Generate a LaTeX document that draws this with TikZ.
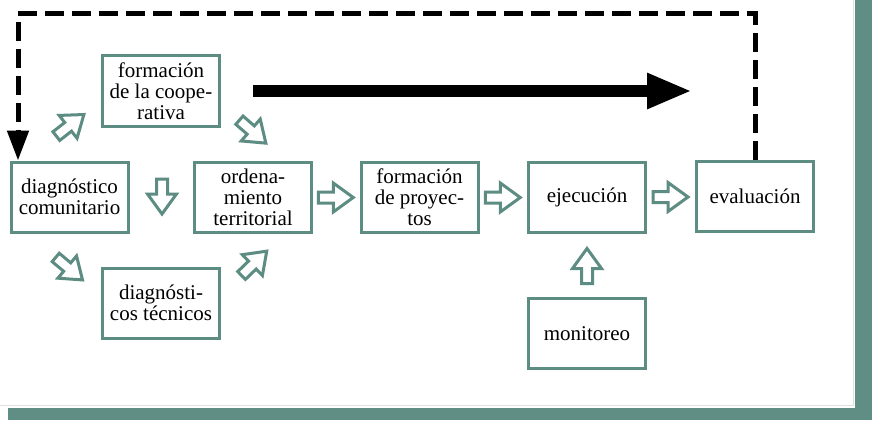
\documentclass[tikz,border=0pt]{standalone}
\usepackage{fontspec}
\setmainfont{Liberation Serif}
\usetikzlibrary{arrows.meta,calc}
\definecolor{tealb}{RGB}{92,140,130}
\definecolor{frameb}{RGB}{96,142,132}
\tikzset{
 box/.style={draw=tealb, line width=3pt, fill=white, minimum width=117pt, minimum height=70pt,
   align=center, inner sep=2pt, font=\rmfamily\fontsize{21}{21}\selectfont},
 hollow/.style={draw=tealb, line width=3pt, fill=white, line join=miter},
 feedback/.style={line width=5pt, dash pattern=on 19pt off 8pt, line join=miter,
   -{Triangle[length=30pt,width=21pt]}},
 bigarrow/.style={line width=12pt, -{Triangle[length=45pt,width=33pt]}},
 harrow/.pic={\draw[hollow] (-18,-5.5) -- (-3,-5.5) -- (-3,-14.5) -- (17,0) -- (-3,14.5) -- (-3,5.5) -- (-18,5.5) -- cycle;}
}
\begin{document}
\begin{tikzpicture}[x=1pt,y=-1pt]
\useasboundingbox (0,0) rectangle (872,420);
\fill[white] (0,0) rectangle (872,420);
% frame
\draw[gray!25, line width=1.5pt] (0,405.5) -- (853.5,405.5) -- (853.5,0);
\fill[frameb] (855,0) rectangle (872,420);
\fill[frameb] (8,408) rectangle (872,420);

% boxes
\node[box] (dc) at (69.5,197) {diagnóstico\\comunitario};
\node[box] (fc) at (161,91) {formación\\de la coope-\\rativa};
\node[box] (ot) at (253,197.5) {ordena-\\miento\\territorial};
\node[box] (fp) at (419.5,197.5) {formación\\de proyec-\\tos};
\node[box] (ej) at (587,197.5) {ejecución};
\node[box] (ev) at (755,196.5) {evaluación};
\node[box] (dt) at (161,303) {diagnósti-\\cos técnicos};
\node[box] (mo) at (587,333.5) {monitoreo};

% hollow arrows
\pic[rotate=38] at (70.5,125) {harrow};
\pic[rotate=-41] at (253,132) {harrow};
\pic[rotate=-40] at (69.5,269) {harrow};
\pic[rotate=44] at (254.5,263) {harrow};
\pic[rotate=-90] at (162,197) {harrow};
\pic at ($(ot.east)!0.5!(fp.west)$) {harrow};
\pic at ($(fp.east)!0.5!(ej.west)$) {harrow};
\pic at ($(ej.east)!0.5!(ev.west)$) {harrow};
\pic[rotate=90] at ($(ej.south)!0.5!(mo.north)$) {harrow};

% big black arrow
\coordinate (bigS) at (253,91);
\coordinate (bigE) at (692,91);
\draw[bigarrow] (bigS) -- (bigE);

% feedback dashed line
\coordinate (dctop) at ([xshift=-51.5pt]dc.north);
\coordinate (tl) at (18,14);
\draw[feedback] (ev.north) |- (tl) -- (dctop);
\end{tikzpicture}
\end{document}
